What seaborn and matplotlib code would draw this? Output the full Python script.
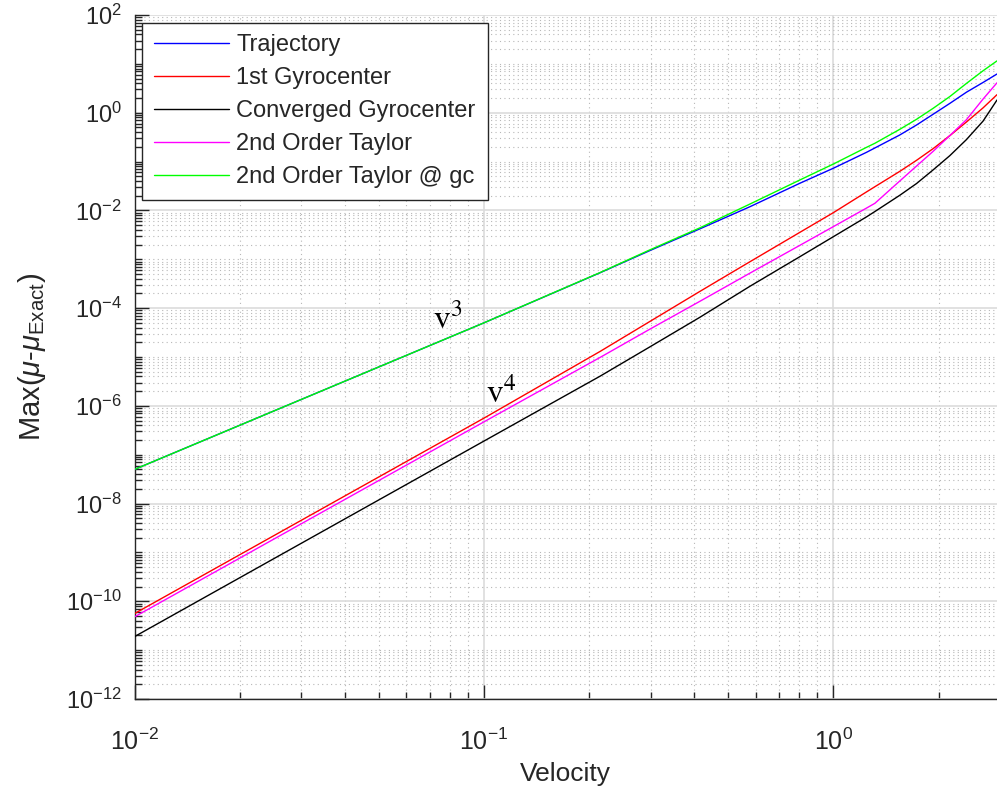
import numpy as np
import pandas as pd
import seaborn as sns
import matplotlib
matplotlib.use("Agg")
import matplotlib.pyplot as plt
from matplotlib.ticker import FixedLocator, FuncFormatter, NullFormatter

# ---------------- data ----------------
velocity = [0.01, 0.1, 0.215, 0.298, 0.415, 0.577, 0.802, 1.0, 1.245, 1.315,
            1.549, 1.73, 1.93, 2.154, 2.404, 2.683, 2.94]
trajectory = [5.0e-8, 5.0e-5, 5.3e-4, 1.5e-3, 4.2e-3, 1.19e-2, 3.6e-2, 7.3e-2, 0.155, 0.19,
              0.35, 0.56, 0.93, 1.55, 2.63, 4.17, 6.2]
gyro_1st = [5.6e-11, 5.6e-7, 1.3e-5, 5.3e-5, 2.2e-4, 8.9e-4, 3.56e-3, 9.0e-3, 0.024, 0.0306,
            0.063, 0.106, 0.184, 0.339, 0.646, 1.26, 2.34]
gyro_conv = [1.89e-11, 1.9e-7, 4.05e-6, 1.6e-5, 6.5e-5, 2.8e-4, 1.13e-3, 2.9e-3, 7.4e-3, 9.5e-3,
             0.0204, 0.0355, 0.0676, 0.132, 0.282, 0.676, 1.82]
taylor2 = [4.8e-11, 4.7e-7, 9.8e-6, 3.69e-5, 1.38e-4, 5.2e-4, 1.93e-3, 4.66e-3, 0.0112, 0.014,
           0.040, 0.081, 0.162, 0.34, 0.72, 1.91, 4.1]
taylor2_gc = [5.0e-8, 5.0e-5, 5.35e-4, 1.55e-3, 4.4e-3, 1.35e-2, 4.2e-2, 8.9e-2, 0.196, 0.237,
              0.457, 0.733, 1.23, 2.14, 3.98, 7.24, 11.5]

series_names = ["Trajectory", "1st Gyrocenter", "Converged Gyrocenter",
                "2nd Order Taylor", "2nd Order Taylor @ gc"]
series_values = [trajectory, gyro_1st, gyro_conv, taylor2, taylor2_gc]
series_colors = ["#0000ff", "#ff0000", "#000000", "#ff00ff", "#00ff00"]

x_tick_exponents = [-2, -1, 0]
y_tick_exponents = [-12, -10, -8, -6, -4, -2, 0, 2]

xlabel = "Velocity"
ylabel = r"Max($\mu$-$\mu_{\mathregular{Exact}}$)"
ann3 = r"$\mathrm{v}^{3}$"
ann4 = r"$\mathrm{v}^{4}$"

df = pd.concat(
    [pd.DataFrame({"Velocity": velocity, "err": vals, "series": name})
     for name, vals in zip(series_names, series_values)],
    ignore_index=True,
)

# ---------------- style ----------------
sns.set_theme(style="white")
plt.rcParams["font.family"] = ["Liberation Sans", "DejaVu Sans"]
plt.rcParams["mathtext.fontset"] = "custom"
plt.rcParams["mathtext.rm"] = "Liberation Sans"
plt.rcParams["mathtext.it"] = "Liberation Sans:italic"
plt.rcParams["mathtext.bf"] = "Liberation Sans:bold"
plt.rcParams["mathtext.sf"] = "Liberation Sans"

fig = plt.figure(figsize=(9.97, 7.94), dpi=100)
ax = fig.add_axes([134.5 / 997, 1 - 699 / 794, 1 - 134.5 / 997, (699 - 15) / 794])

sns.lineplot(data=df, x="Velocity", y="err", hue="series", hue_order=series_names,
             palette=dict(zip(series_names, series_colors)), estimator=None,
             sort=False, linewidth=1.0, ax=ax, zorder=3)

ax.set_xscale("log")
ax.set_yscale("log")
ax.set_xlim(0.01, 2.94)
ax.set_ylim(1e-12, 1e2)

# ticks
xmaj = [10.0 ** e for e in x_tick_exponents]
ymaj = [10.0 ** e for e in y_tick_exponents]
xmin = [k * 10.0 ** e for e in range(-2, 1) for k in range(2, 10)]
ymin = [k * 10.0 ** e for e in range(-12, 2) for k in range(1, 10)
        if not (k == 1 and e in y_tick_exponents)]
ax.xaxis.set_major_locator(FixedLocator(xmaj))
ax.xaxis.set_minor_locator(FixedLocator(xmin))
ax.yaxis.set_major_locator(FixedLocator(ymaj))
ax.yaxis.set_minor_locator(FixedLocator(ymin))
fmt = FuncFormatter(lambda v, p: r"$10^{%d}$" % int(round(np.log10(v))))
ax.xaxis.set_major_formatter(fmt)
ax.yaxis.set_major_formatter(fmt)
ax.xaxis.set_minor_formatter(NullFormatter())
ax.yaxis.set_minor_formatter(NullFormatter())

ax.tick_params(which="both", direction="in", colors="#262626", width=1.0,
               bottom=True, left=True, top=False, right=False)
ax.tick_params(which="major", length=10)
ax.tick_params(which="minor", length=5)
ax.tick_params(axis="x", which="major", labelsize=18, pad=21)
ax.tick_params(axis="y", which="major", labelsize=17, pad=9)

# grid
ax.grid(which="major", color="#dcdcdc", linestyle="-", linewidth=1.2, zorder=0)
ax.grid(which="minor", color="#b8b8b8", linestyle=(0, (1, 3)), linewidth=0.8, zorder=0)
ax.set_axisbelow(True)

for s in ["top", "right"]:
    ax.spines[s].set_visible(False)
for s in ["left", "bottom"]:
    ax.spines[s].set_color("#262626")
    ax.spines[s].set_linewidth(1.0)

ax.set_xlabel(xlabel, fontsize=19, color="#262626", labelpad=5)
ax.set_ylabel(ylabel, fontsize=21, color="#262626", labelpad=13)

ax.text(0.0714, 3.9e-5, ann3, fontsize=24, math_fontfamily="stix", color="black",
        ha="left", va="baseline", zorder=4)
ax.text(0.1014, 1.2e-6, ann4, fontsize=24, math_fontfamily="stix", color="black",
        ha="left", va="baseline", zorder=4)

leg = ax.legend(loc="upper left", fontsize=17, frameon=True, fancybox=False,
                framealpha=1.0, edgecolor="#262626", handlelength=3.2,
                handletextpad=0.3, labelspacing=0.46, borderpad=0.5,
                borderaxespad=0.32, title=None)
leg.get_frame().set_linewidth(1.0)
leg.set_zorder(10)

fig.savefig("out.png", dpi=100)
